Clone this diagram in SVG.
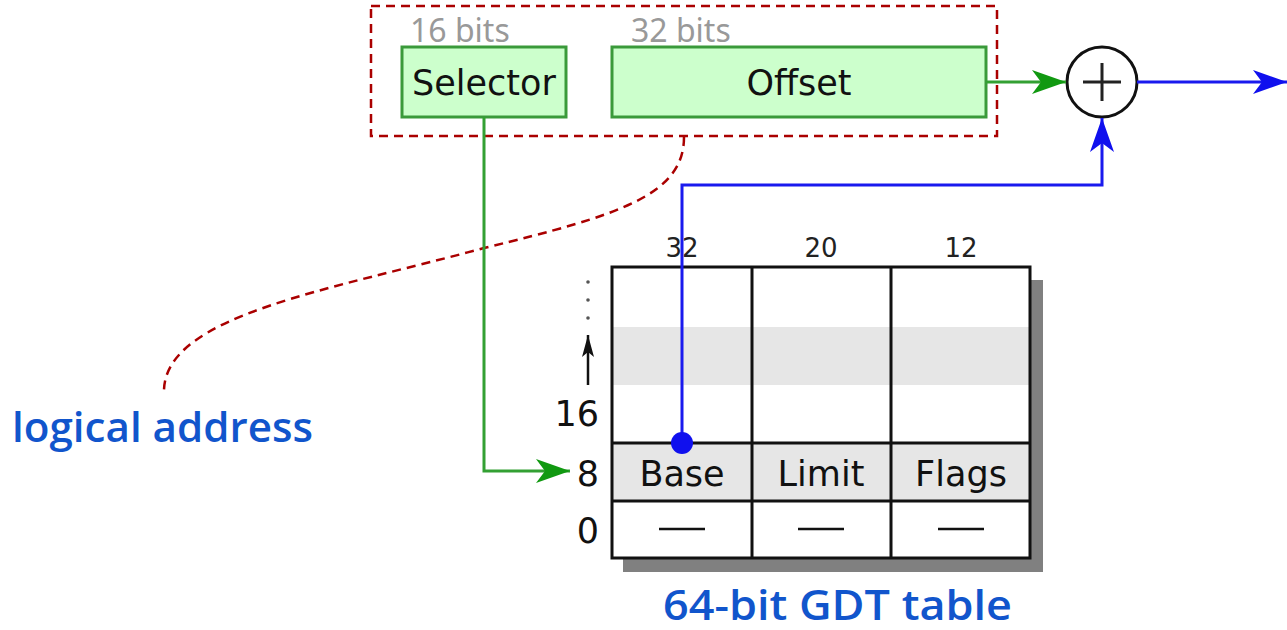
<svg xmlns="http://www.w3.org/2000/svg" width="1287" height="630" viewBox="0 0 1287 630">
<style>
.box{fill:#ccffcc;stroke:#3a9a3a;stroke-width:3}
.boxt{font-family:"DejaVu Sans",sans-serif;font-size:35px;fill:#111;text-anchor:middle}
.bits{font-family:"Noto Sans",sans-serif;font-size:32px;fill:#999}
.tl{font-family:"DejaVu Sans",sans-serif;font-size:35px;fill:#111;text-anchor:middle}
.rl{font-family:"DejaVu Sans",sans-serif;font-size:35px;fill:#111;text-anchor:end}
.hd{font-family:"DejaVu Sans",sans-serif;font-size:26px;fill:#222;text-anchor:middle}
.cap{font-family:"Open Sans","Liberation Sans",sans-serif;font-weight:600;font-size:41px;fill:#1155cc}
.grid{stroke:#111;stroke-width:3;fill:none}
.dash{fill:none;stroke:#aa0000;stroke-width:2.5;stroke-dasharray:9 6}
.g{fill:none;stroke:#33a033;stroke-width:3}
.b{fill:none;stroke:#1a1aee;stroke-width:3}
</style>
<defs>
<marker id="ag" markerUnits="userSpaceOnUse" markerWidth="36" markerHeight="26" refX="34" refY="12" orient="auto">
<path d="M0,0 L34,12 L0,24 L9,12 z" fill="#119911"/>
</marker>
<marker id="ab" markerUnits="userSpaceOnUse" markerWidth="36" markerHeight="26" refX="34" refY="12" orient="auto">
<path d="M0,0 L34,12 L0,24 L9,12 z" fill="#1010ee"/>
</marker>
<marker id="ak" markerUnits="userSpaceOnUse" markerWidth="24" markerHeight="16" refX="22" refY="6" orient="auto">
<path d="M0,0 L22,6 L0,12 L5,6 z" fill="#111"/>
</marker>
</defs>

<g id="logical-address-frame">
<rect x="371" y="6" width="626" height="130" class="dash"/>
</g>

<g id="selector">
<text x="410" y="42" class="bits">16 bits</text>
<rect x="402" y="47" width="164" height="70" class="box"/>
<text x="484" y="95" class="boxt">Selector</text>
</g>

<g id="offset">
<text x="631" y="42" class="bits">32 bits</text>
<rect x="612" y="47" width="374" height="70" class="box"/>
<text x="799" y="95" class="boxt">Offset</text>
</g>

<g id="adder">
<circle cx="1102" cy="82" r="35" fill="#fff" stroke="#111" stroke-width="3"/>
<path d="M1083,82 H1121 M1102,63 V101" stroke="#222" stroke-width="3" fill="none"/>
</g>

<g id="gdt-table">
<rect x="623" y="280" width="420" height="292" fill="#808080"/>
<rect x="612" y="267" width="418" height="291" fill="#fff"/>
<rect x="612" y="327" width="418" height="58" fill="#e6e6e6"/>
<rect x="612" y="443" width="418" height="58" fill="#e6e6e6"/>
<rect x="612" y="267" width="418" height="291" class="grid"/>
<path d="M752,267 V558 M891,267 V558 M612,443 H1030 M612,501 H1030" class="grid"/>
<text x="682" y="257" class="hd">32</text>
<text x="821" y="257" class="hd">20</text>
<text x="961" y="257" class="hd">12</text>
<text x="682" y="486" class="tl">Base</text>
<text x="821" y="486" class="tl">Limit</text>
<text x="961" y="486" class="tl">Flags</text>
<path d="M659,529 H705 M798,529 H844 M938,529 H984" stroke="#111" stroke-width="2.5"/>
<text x="599" y="426" class="rl">16</text>
<text x="599" y="486" class="rl">8</text>
<text x="599" y="543" class="rl">0</text>
<circle cx="588" cy="282" r="1.8" fill="#555"/>
<circle cx="588" cy="300" r="1.8" fill="#555"/>
<circle cx="588" cy="318" r="1.8" fill="#555"/>
<path d="M588,385 V335" stroke="#111" stroke-width="2.5" marker-end="url(#ak)"/>
</g>

<g id="connectors">
<path d="M684,137 C684,195 620,215 484,248 C330,290 166,315 164,390" class="dash"/>
<path d="M484,117 V471 H570" class="g" marker-end="url(#ag)"/>
<path d="M986,82 H1066" class="g" marker-end="url(#ag)"/>
<path d="M1137,82 H1287" class="b" marker-end="url(#ab)"/>
<path d="M682,443 V185 H1102 V118" class="b" marker-end="url(#ab)"/>
<circle cx="682" cy="443" r="11" fill="#1010ee"/>
</g>

<g id="labels">
<text x="12" y="442" class="cap" textLength="301" lengthAdjust="spacingAndGlyphs">logical address</text>
<text x="663" y="620" class="cap" textLength="349" lengthAdjust="spacingAndGlyphs">64-bit GDT table</text>
</g>
</svg>
